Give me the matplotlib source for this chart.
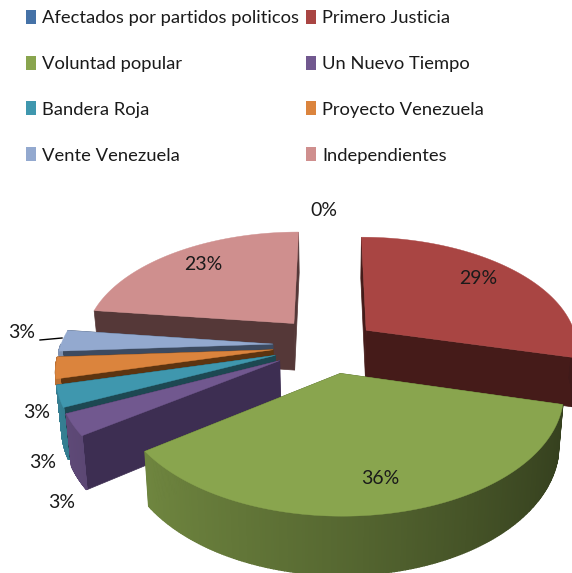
"""Exploded 3D pie: party shares, drawn with a small perspective projection."""
import numpy as np
import matplotlib
matplotlib.use('Agg')
import matplotlib.pyplot as plt
from matplotlib.patches import Polygon, Patch

plt.rcParams['font.family'] = ['Lato', 'DejaVu Sans']

# Data
parties = ['Afectados por partidos politicos', 'Primero Justicia', 'Voluntad popular',
           'Un Nuevo Tiempo', 'Bandera Roja', 'Proyecto Venezuela',
           'Vente Venezuela', 'Independientes']
shares = [0, 29, 36, 3, 3, 3, 3, 23]

# Styles, same order as parties
top_colors = ['#4572a7', '#a94543', '#89a54e', '#71588f', '#3f97ae', '#db843d', '#93a9cf', '#cf8f8e']
side_colors = ['#2a4465', '#451b19', '#4f6429', '#3d2e52', '#1d4852', '#5d3410', '#3c4a60', '#553838']
explode = [0.25, 0.22, 0.25, 0.27, 0.27, 0.27, 0.27, 0.265]
label_xy = [(324, 210), (478, 279), (380, 478), (62, 503), (43, 462), (37, 413), (22, 333), (203, 265)]
draw_order = [7, 1, 6, 5, 4, 3, 2]

# Camera, in pixels
CX, CY = 330, 345
RX, RY = 212, 111.4
PERSP = 0.152
DEPTH = 48
BOTTOM_SHRINK = 0.98


def project(X, Y, bottom=False):
    s = 1 / (1 + PERSP * np.asarray(Y))
    sx = RX * np.asarray(X) * s
    sy = CY - RY * np.asarray(Y) * s
    if bottom:
        return np.column_stack([CX + sx * BOTTOM_SHRINK, sy + DEPTH * s])
    return np.column_stack([CX + sx, sy])


def darken(color, f):
    return tuple(c * f for c in matplotlib.colors.to_rgb(color))


def draw_slice(ax, a0, a1, e, top, side):
    mid = np.radians((a0 + a1) / 2)
    x0, y0 = e * np.sin(mid), e * np.cos(mid)
    th = np.radians(np.linspace(a0, a1, 200))
    X = x0 + np.sin(th)
    Y = y0 + np.cos(th)

    # radial walls
    for i in (0, -1):
        wx, wy = [x0, X[i]], [y0, Y[i]]
        quad = np.vstack([project(wx, wy), project(wx, wy, True)[::-1]])
        ax.add_patch(Polygon(quad, fc=side, ec=side, lw=0.5))

    # outer rim, only the part facing the camera, shaded left to right
    up, low = project(X, Y), project(X, Y, True)
    shade = np.interp(np.sin(th), [-1, 0, 1], [0.85, 0.63, 0.38])
    for i in range(len(th) - 1):
        if np.cos(th[i]) > 0:
            continue
        quad = [up[i], up[i + 1], low[i + 1], low[i]]
        c = darken(top, shade[i])
        ax.add_patch(Polygon(quad, fc=c, ec=c, lw=1.0))

    # top face
    face = np.vstack([project([x0], [y0]), up])
    ax.add_patch(Polygon(face, fc=top, ec=top, lw=0.3))


fig = plt.figure(figsize=(5.72, 5.73), dpi=100, facecolor='white')
ax = fig.add_axes([0, 0, 1, 1])
ax.set_xlim(0, 572)
ax.set_ylim(573, 0)
ax.axis('off')

edges = np.concatenate([[0], np.cumsum(shares)]) * 3.6
for i in draw_order:
    draw_slice(ax, edges[i], edges[i + 1], explode[i], top_colors[i], side_colors[i])

for xy, val in zip(label_xy, shares):
    ax.text(xy[0], xy[1], f'{val}%', fontsize=14, color='#1a1a1a', ha='center', va='center')
ax.plot([40, 62], [340, 338], color='black', lw=1)

# legend fills column by column, the reference reads row by row
handles = [Patch(fc=c, ec='none') for c in top_colors]
order = [0, 2, 4, 6, 1, 3, 5, 7]
ax.legend([handles[i] for i in order], [parties[i] for i in order], ncol=2, frameon=False,
          loc='upper left', bbox_to_anchor=(26 / 572, 1 - 10 / 573), borderaxespad=0, borderpad=0,
          fontsize=13.2, handlelength=0.56, handleheight=0.8, handletextpad=0.33,
          columnspacing=0.35, labelspacing=1.6, labelcolor='#1a1a1a')

fig.savefig('out.png', dpi=100, facecolor='white')
